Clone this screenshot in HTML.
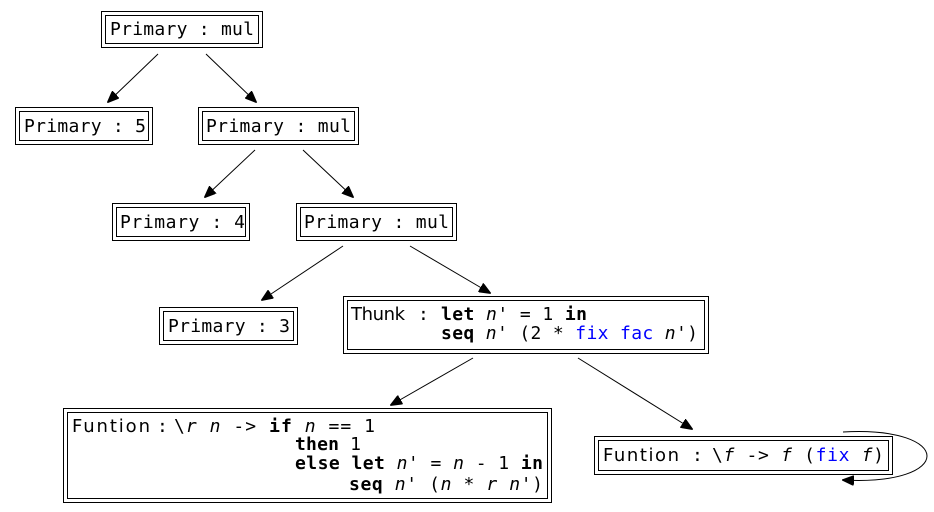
<!DOCTYPE html>
<html><head><meta charset="utf-8"><style>
html,body{margin:0;padding:0;background:#fff}
svg{display:block}
text{font-family:"DejaVu Sans Mono","Liberation Mono",monospace;font-size:18px;fill:#000}
.p{font-family:"DejaVu Sans","Liberation Sans",sans-serif;font-size:18px}
.b{font-weight:bold}
.i{font-style:italic}
.bl{fill:#0000ff}
rect{fill:none;stroke:#000;stroke-width:1}
line,path{stroke:#000;stroke-width:1;fill:none}
</style></head><body>
<svg width="934" height="512" viewBox="0 0 934 512" xmlns="http://www.w3.org/2000/svg">
<defs><marker id="a" markerWidth="12" markerHeight="10" refX="11" refY="5" orient="auto" markerUnits="userSpaceOnUse"><path d="M0,0 L12,5 L0,10 Z" style="fill:#000;stroke:#000"/></marker></defs>

<rect x="101.5" y="11.5" width="161" height="36"/><rect x="105.5" y="15.5" width="153" height="28"/>
<text x="110" y="35" textLength="144">Primary : mul</text>

<rect x="15.5" y="107.5" width="137" height="37"/><rect x="19.5" y="111.5" width="129" height="29"/>
<text x="24" y="132" textLength="122">Primary : 5</text>

<rect x="198.5" y="107.5" width="160" height="37"/><rect x="202.5" y="111.5" width="152" height="29"/>
<text x="206" y="132" textLength="145">Primary : mul</text>

<rect x="112.5" y="203.5" width="137" height="37"/><rect x="116.5" y="207.5" width="129" height="29"/>
<text x="120" y="228" textLength="125">Primary : 4</text>

<rect x="296.5" y="203.5" width="160" height="37"/><rect x="300.5" y="207.5" width="152" height="29"/>
<text x="304" y="228" textLength="145">Primary : mul</text>

<rect x="159.5" y="307.5" width="138" height="37"/><rect x="163.5" y="311.5" width="130" height="29"/>
<text x="168" y="332" textLength="122">Primary : 3</text>

<rect x="343.5" y="296.5" width="365" height="57"/><rect x="347.5" y="300.5" width="357" height="49"/>
<text class="p" x="351" y="320" textLength="54">Thunk</text><text x="418" y="320">:</text>
<text x="441" y="320" textLength="146"><tspan class="b">let</tspan> <tspan class="i">n</tspan>' = 1 <tspan class="b">in</tspan></text>
<text x="441" y="339" textLength="257"><tspan class="b">seq</tspan> <tspan class="i">n</tspan>' (2 * <tspan class="bl">fix</tspan> <tspan class="bl">fac</tspan> <tspan class="i">n</tspan>')</text>

<rect x="63.5" y="408.5" width="488" height="94"/><rect x="67.5" y="412.5" width="480" height="86"/>
<text class="p" x="72" y="432" textLength="78">Funtion</text><text x="157" y="432">:</text>
<text x="174" y="432" textLength="201">\<tspan class="i">r</tspan> <tspan class="i">n</tspan> -&gt; <tspan class="b">if</tspan> <tspan class="i">n</tspan> == 1</text>
<text x="295" y="450" textLength="66"><tspan class="b">then</tspan> 1</text>
<text x="295" y="469" textLength="248"><tspan class="b">else</tspan> <tspan class="b">let</tspan> <tspan class="i">n</tspan>' = <tspan class="i">n</tspan> - 1 <tspan class="b">in</tspan></text>
<text x="349" y="490" textLength="194"><tspan class="b">seq</tspan> <tspan class="i">n</tspan>' (<tspan class="i">n</tspan> * <tspan class="i">r</tspan> <tspan class="i">n</tspan>')</text>

<rect x="594.5" y="436.5" width="298" height="38"/><rect x="598.5" y="440.5" width="290" height="30"/>
<text class="p" x="603" y="461" textLength="76">Funtion</text><text x="692" y="461">:</text>
<text x="712" y="461" textLength="172">\<tspan class="i">f</tspan> -&gt; <tspan class="i">f</tspan> (<tspan class="bl">fix</tspan> <tspan class="i">f</tspan>)</text>

<line x1="158" y1="54" x2="108" y2="102" marker-end="url(#a)"/>
<line x1="206" y1="54" x2="256" y2="102" marker-end="url(#a)"/>
<line x1="255" y1="150" x2="205" y2="197" marker-end="url(#a)"/>
<line x1="303" y1="150" x2="353" y2="197" marker-end="url(#a)"/>
<line x1="343" y1="246" x2="262" y2="300" marker-end="url(#a)"/>
<line x1="410" y1="246" x2="490" y2="293" marker-end="url(#a)"/>
<line x1="473" y1="358" x2="391" y2="405" marker-end="url(#a)"/>
<line x1="578" y1="358" x2="692" y2="429" marker-end="url(#a)"/>
<path d="M843,432 C955,426 955,486 843,480" marker-end="url(#a)"/>
</svg>
</body></html>
